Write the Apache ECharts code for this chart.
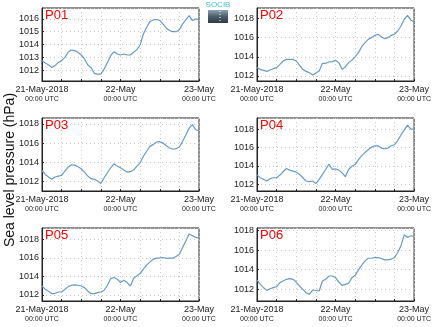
<!DOCTYPE html>
<html><head><meta charset="utf-8">
<script src="https://cdn.jsdelivr.net/npm/echarts@6/dist/echarts.min.js"></script>
<style>html,body{margin:0;padding:0;background:#fff}#c{width:434px;height:327px}</style>
</head><body><div id="c"></div>
<script>
const hours = [0,1,2,3,4,5,6,7,8,9,10,11,12,13,14,15,16,17,18,19,20,21,22,23,24,25,26,27,28,29,30,31,32,33,34,35,36,37,38,39,40,41,42,43,44,45,46,47,48];
const stations = ['P01','P02','P03','P04','P05','P06'];
const dayLabels = ['21-May-2018','22-May','23-May'];
const timeLabel = '00:00 UTC';
const yTitle = 'Sea level pressure (hPa)';
const p01 = [1012.74,1012.55,1012.40,1012.21,1012.35,1012.60,1012.74,1013.00,1013.39,1013.57,1013.52,1013.39,1013.18,1012.87,1012.40,1012.21,1011.74,1011.69,1011.69,1012.08,1012.60,1013.13,1013.44,1013.26,1013.18,1013.26,1013.18,1013.18,1013.39,1013.60,1013.96,1014.82,1015.35,1015.79,1015.92,1015.95,1015.87,1015.61,1015.27,1015.09,1015.00,1015.00,1015.16,1015.61,1015.95,1016.25,1015.87,1016.00,1015.92];
const p02 = [1012.87,1012.69,1012.59,1012.48,1012.62,1012.76,1012.87,1013.21,1013.56,1013.73,1013.73,1013.73,1013.56,1013.10,1012.69,1012.48,1012.35,1012.10,1012.30,1012.52,1013.32,1013.32,1013.46,1013.49,1013.63,1013.39,1012.69,1012.94,1013.39,1013.63,1014.01,1014.43,1015.05,1015.47,1015.81,1015.99,1016.23,1016.34,1016.09,1015.88,1015.99,1016.23,1016.34,1016.68,1017.20,1017.90,1018.31,1017.83,1017.62];
const p03 = [1013.16,1012.75,1012.48,1012.24,1012.48,1012.58,1012.65,1013.10,1013.50,1013.75,1013.71,1013.54,1013.34,1012.99,1012.58,1012.31,1012.24,1012.07,1011.80,1012.41,1012.92,1013.44,1013.85,1013.61,1013.44,1013.20,1012.99,1013.03,1013.20,1013.61,1013.95,1014.64,1015.15,1015.66,1015.84,1016.11,1016.14,1016.00,1015.73,1015.49,1015.36,1015.42,1015.60,1016.18,1016.86,1017.55,1017.92,1017.38,1017.27];
const p04 = [1013.00,1012.71,1012.54,1012.36,1012.61,1012.71,1012.71,1013.00,1013.36,1013.71,1013.54,1013.43,1013.32,1013.07,1012.71,1012.36,1012.29,1012.36,1012.07,1012.54,1013.07,1013.61,1014.20,1013.61,1013.68,1013.54,1013.25,1012.82,1013.61,1013.96,1014.14,1014.68,1015.11,1015.46,1015.75,1016.04,1016.18,1016.18,1015.93,1015.86,1015.93,1016.18,1016.29,1016.75,1017.36,1017.89,1018.43,1018.00,1018.00];
const p05 = [1012.97,1012.61,1012.40,1012.14,1012.18,1012.32,1012.32,1012.61,1012.90,1013.05,1013.08,1013.05,1012.97,1012.79,1012.43,1012.14,1012.14,1012.25,1012.32,1012.51,1013.05,1013.77,1013.88,1013.70,1013.34,1013.59,1013.34,1012.97,1013.77,1014.06,1014.31,1014.78,1015.21,1015.57,1015.86,1015.97,1016.00,1016.04,1015.94,1015.97,1015.97,1016.15,1016.40,1017.13,1017.85,1018.57,1018.39,1018.21,1018.14];
const p06 = [1012.93,1012.48,1012.14,1011.86,1012.03,1012.14,1012.24,1012.66,1012.83,1013.00,1013.07,1013.00,1012.72,1012.31,1011.97,1011.62,1011.45,1011.90,1011.85,1011.80,1012.83,1013.00,1013.34,1013.34,1013.17,1012.72,1012.38,1012.48,1012.59,1013.17,1013.41,1013.97,1014.45,1014.90,1015.17,1015.17,1015.24,1015.24,1015.14,1015.00,1015.00,1015.07,1015.24,1015.76,1016.45,1017.60,1017.31,1017.48,1017.41];
const series = [p01,p02,p03,p04,p05,p06];
const yMin = [1011.15,1011.48,1011.03,1011.27,1011.35,1010.77];
const yMax = [1016.85,1019.07,1018.60,1019.20,1019.22,1018.28];
const yStep = [1,2,2,2,2,2];

const chart = echarts.init(document.getElementById('c'), null, {renderer:'canvas'});
const lefts = [42,257], tops = [8,118,228], widths=[157,158], H=73;
const grids=[], xAxes=[], yAxes=[], ser=[], graphics=[];
const font = 'Liberation Sans, Arial, sans-serif';
series.forEach((vals,i)=>{
  const col=i%2,row=Math.floor(i/2);
  grids.push({left:lefts[col],top:tops[row],width:widths[col],height:H,show:true,borderColor:'#222',borderWidth:1,backgroundColor:'#fff'});
  xAxes.push({type:'value',gridIndex:i,min:0,max:48,interval:6,
    axisLine:{show:true,onZero:false,lineStyle:{color:'#222',width:1}},
    axisTick:{show:true,inside:true,length:2,lineStyle:{color:'#222'}},
    splitLine:{show:true,lineStyle:{color:'#c8c8c8',type:[1,3],width:1}},
    axisLabel:{margin:3,color:'#222',fontFamily:font,
      formatter:v=>{ if(v%24!==0) return ''; return '{a|'+dayLabels[v/24]+'}\n{b|'+timeLabel+'}'; },
      rich:{a:{fontSize:9,lineHeight:11,color:'#222',fontFamily:font},b:{fontSize:7,lineHeight:9,color:'#222',fontFamily:font}}}
  });
  yAxes.push({type:'value',gridIndex:i,min:yMin[i],max:yMax[i],minInterval:yStep[i],maxInterval:yStep[i],
    axisLine:{show:true,lineStyle:{color:'#222',width:1}},
    axisTick:{show:true,inside:true,length:2,lineStyle:{color:'#222'}},
    splitLine:{show:true,lineStyle:{color:'#c8c8c8',type:[1,3],width:1}},
    axisLabel:{showMinLabel:false,showMaxLabel:false,margin:3,fontSize:9,color:'#222',fontFamily:font,
      formatter:v=>Number.isInteger(Math.round(v*1000)/1000)?String(Math.round(v)):''}
  });
  ser.push({type:'line',xAxisIndex:i,yAxisIndex:i,showSymbol:false,smooth:false,
    lineStyle:{color:'#6b9bc8',width:1.2},data:hours.map((h,k)=>[h,vals[k]])});
  graphics.push({type:'text',left:lefts[col]+3,top:tops[row]+1,z:100,
    style:{text:stations[i],fill:'#ff0000',fontSize:13,fontFamily:font}});
});
graphics.push({type:'text',z:100,x:3,y:170,rotation:Math.PI/2,
  style:{text:yTitle,fill:'#111',fontSize:14,fontFamily:font,align:'center',verticalAlign:'top'}});
// logo
graphics.push({type:'rect',z:100,shape:{x:208,y:10,width:20,height:13},
  style:{fill:new echarts.graphic.LinearGradient(0,0,0,1,[{offset:0,color:'#8fa3b3'},{offset:0.5,color:'#4b5d6b'},{offset:1,color:'#2e3b46'}])}});
graphics.push({type:'line',z:101,shape:{x1:220,y1:11,x2:220,y2:22},style:{stroke:'#fff',lineWidth:1,lineDash:[1,2]}});
graphics.push({type:'text',z:101,x:218,y:1,style:{text:'SOCIB',fill:'#3fc0dc',fontSize:8,fontFamily:font,align:'center',verticalAlign:'top'}});

chart.setOption({animation:false,grid:grids,xAxis:xAxes,yAxis:yAxes,series:ser,graphic:graphics});
</script></body></html>
